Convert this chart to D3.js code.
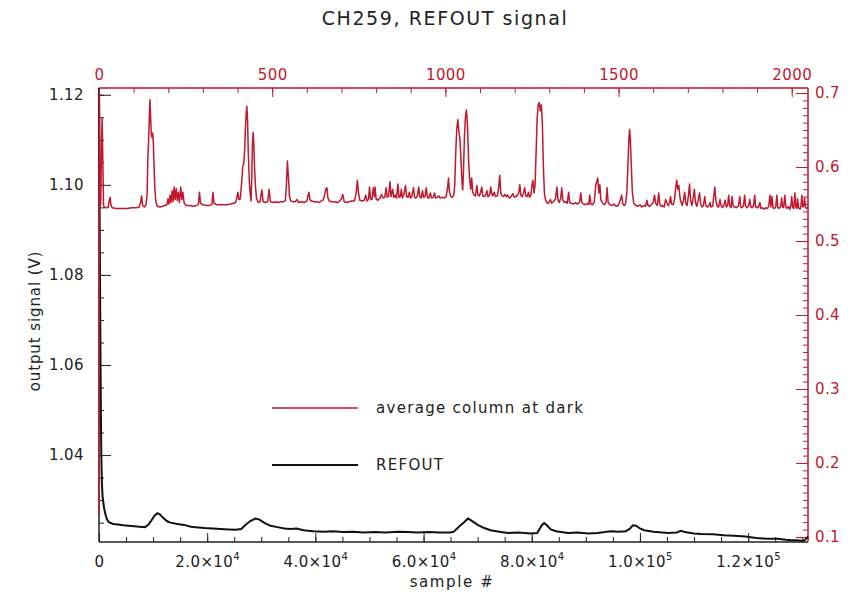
<!DOCTYPE html>
<html>
<head>
<meta charset="utf-8">
<script src="https://cdn.jsdelivr.net/npm/d3@7"></script>
<style>
  body { margin: 0; background: #fff; }
  text { font-family: "DejaVu Sans", sans-serif; }
</style>
</head>
<body>
<div id="chart"></div>
<script>
// average column at dark: [column, value] (right axis)
var darkAvg = [[0,0.130],[1,0.705],[3,0.548],[5,0.550],[7,0.620],[9,0.666],[11,0.612],[13,0.548],[17,0.545],[22,0.545],[27,0.546],[30,0.556],[32,0.559],[34,0.550],[38,0.545],[50,0.544],[65,0.544],[80,0.544],[95,0.545],[108,0.545],[116,0.546],[120,0.552],[123,0.561],[126,0.548],[131,0.546],[136,0.549],[139,0.565],[141,0.612],[143,0.632],[145,0.662],[147,0.691],[149,0.668],[151,0.644],[153,0.640],[155,0.646],[157,0.632],[159,0.602],[161,0.572],[164,0.554],[168,0.547],[176,0.546],[184,0.547],[190,0.548],[196,0.549],[199,0.557],[202,0.550],[205,0.562],[208,0.552],[211,0.568],[214,0.553],[217,0.573],[220,0.556],[223,0.571],[226,0.555],[229,0.566],[232,0.552],[236,0.573],[239,0.556],[242,0.566],[246,0.551],[252,0.548],[262,0.548],[272,0.547],[282,0.548],[287,0.550],[290,0.566],[293,0.551],[300,0.549],[310,0.548],[320,0.548],[326,0.550],[329,0.566],[332,0.551],[340,0.549],[350,0.549],[360,0.549],[370,0.549],[380,0.550],[388,0.551],[394,0.552],[398,0.558],[401,0.566],[404,0.556],[408,0.557],[412,0.580],[415,0.601],[418,0.604],[421,0.628],[423,0.655],[425,0.672],[427,0.682],[429,0.662],[431,0.620],[434,0.580],[437,0.562],[439,0.554],[441,0.585],[443,0.630],[445,0.647],[447,0.632],[449,0.600],[452,0.572],[455,0.557],[460,0.552],[465,0.553],[470,0.569],[474,0.553],[480,0.552],[487,0.553],[491,0.570],[495,0.553],[502,0.552],[510,0.553],[517,0.552],[525,0.553],[532,0.553],[538,0.555],[541,0.575],[544,0.608],[547,0.585],[550,0.560],[554,0.554],[560,0.553],[566,0.553],[572,0.556],[576,0.552],[584,0.553],[592,0.552],[600,0.554],[603,0.560],[606,0.566],[609,0.556],[614,0.554],[621,0.553],[628,0.553],[634,0.552],[641,0.554],[648,0.556],[651,0.562],[655,0.570],[658,0.572],[661,0.558],[665,0.554],[672,0.553],[680,0.553],[688,0.552],[695,0.554],[700,0.557],[704,0.563],[708,0.553],[715,0.552],[722,0.553],[730,0.554],[737,0.554],[742,0.563],[746,0.582],[749,0.566],[753,0.555],[760,0.554],[766,0.555],[770,0.562],[774,0.554],[778,0.556],[781,0.573],[784,0.557],[788,0.556],[792,0.572],[795,0.560],[797,0.573],[800,0.557],[805,0.555],
  [811,0.558],[816,0.563],[820,0.558],[825,0.559],[829,0.572],[832,0.559],[836,0.561],[840,0.580],[843,0.560],[848,0.570],[851,0.559],[855,0.562],[859,0.558],[863,0.577],[866,0.559],[870,0.560],[873,0.570],[876,0.558],[880,0.563],[885,0.575],[888,0.560],[892,0.559],[896,0.566],[899,0.558],[903,0.560],[908,0.572],[911,0.559],[915,0.558],[919,0.561],[923,0.573],[926,0.560],[930,0.558],[934,0.568],[937,0.559],[941,0.560],[945,0.572],[948,0.559],[952,0.558],[957,0.565],[960,0.558],[965,0.559],[969,0.565],[972,0.558],[977,0.559],[981,0.561],[985,0.558],[990,0.559],[996,0.558],[1002,0.560],[1006,0.570],[1009,0.585],[1012,0.566],[1016,0.560],[1020,0.559],[1024,0.562],
  [1027,0.575],[1030,0.620],[1033,0.652],[1036,0.664],[1039,0.648],[1042,0.639],[1045,0.610],[1048,0.580],[1050,0.569],[1052,0.590],[1055,0.640],[1058,0.668],[1061,0.677],[1064,0.655],[1067,0.610],[1070,0.585],[1073,0.570],[1076,0.585],[1079,0.566],
  [1083,0.562],[1087,0.561],[1091,0.575],[1094,0.562],[1098,0.561],[1102,0.566],[1105,0.573],[1108,0.561],[1112,0.560],[1116,0.561],[1120,0.568],[1123,0.560],[1128,0.562],[1131,0.573],[1134,0.564],[1137,0.561],[1141,0.566],[1145,0.560],[1150,0.561],[1154,0.572],[1157,0.589],[1160,0.565],[1164,0.561],[1168,0.560],[1172,0.563],[1176,0.560],[1180,0.562],[1185,0.558],[1190,0.560],[1195,0.564],[1199,0.559],[1204,0.560],[1208,0.562],[1212,0.565],[1215,0.576],[1218,0.562],[1222,0.560],[1226,0.566],[1229,0.572],[1232,0.561],[1236,0.560],[1240,0.566],[1243,0.559],[1247,0.562],[1250,0.575],[1253,0.582],[1256,0.565],
  [1259,0.575],[1262,0.620],[1265,0.665],[1268,0.684],[1271,0.687],[1274,0.676],[1277,0.684],[1280,0.660],[1283,0.600],[1286,0.565],[1289,0.556],
  [1293,0.552],[1298,0.551],[1303,0.556],[1307,0.551],[1312,0.553],[1318,0.557],[1322,0.573],[1325,0.556],[1329,0.552],[1333,0.558],[1336,0.572],[1339,0.556],[1343,0.552],[1348,0.553],[1352,0.551],[1356,0.566],[1359,0.552],[1364,0.551],[1370,0.550],[1376,0.552],[1382,0.550],[1388,0.553],[1391,0.565],[1394,0.552],[1399,0.550],[1405,0.549],[1410,0.551],[1414,0.549],[1417,0.562],[1420,0.550],[1425,0.549],[1430,0.553],[1434,0.575],[1437,0.580],[1440,0.585],[1443,0.565],[1446,0.576],[1449,0.556],[1454,0.551],[1459,0.549],[1464,0.553],[1467,0.572],[1470,0.552],
  [1475,0.549],[1481,0.548],[1487,0.550],[1493,0.547],[1499,0.548],[1505,0.555],[1509,0.562],[1512,0.551],[1516,0.548],[1520,0.550],[1524,0.565],[1527,0.600],[1530,0.640],[1532,0.651],[1534,0.638],[1537,0.600],[1540,0.565],[1544,0.551],[1550,0.548],[1556,0.547],[1562,0.549],[1567,0.546],[1573,0.548],[1578,0.547],[1582,0.555],[1585,0.548],[1590,0.547],[1595,0.549],[1600,0.552],[1604,0.562],[1607,0.551],[1612,0.548],[1616,0.565],[1619,0.550],[1624,0.547],[1628,0.548],[1632,0.546],[1636,0.556],[1639,0.552],[1643,0.548],[1647,0.551],[1650,0.560],[1653,0.550],[1658,0.549],[1662,0.557],[1665,0.572],[1668,0.582],[1671,0.570],[1674,0.575],[1677,0.560],
  [1680,0.553],[1684,0.548],[1688,0.557],[1691,0.566],[1694,0.551],[1698,0.548],[1702,0.562],[1705,0.577],[1708,0.555],[1712,0.548],[1716,0.560],[1719,0.570],[1722,0.552],[1726,0.547],[1730,0.556],[1734,0.565],[1737,0.550],[1741,0.546],[1745,0.548],[1749,0.560],[1752,0.548],[1756,0.546],[1760,0.547],[1764,0.552],[1767,0.546],[1772,0.547],[1775,0.561],[1778,0.573],[1781,0.555],[1785,0.547],[1789,0.546],[1793,0.556],[1796,0.548],[1800,0.545],[1804,0.548],[1808,0.555],[1811,0.546],[1815,0.548],[1818,0.562],[1821,0.548],[1825,0.545],[1828,0.560],[1831,0.547],[1836,0.546],[1840,0.545],[1846,0.547],[1850,0.560],[1853,0.546],[1857,0.545],[1861,0.548],[1864,0.562],[1867,0.547],[1871,0.545],[1875,0.547],[1879,0.556],[1882,0.546],[1886,0.545],[1890,0.548],[1893,0.562],[1896,0.546],[1900,0.545],[1904,0.546],[1908,0.552],[1911,0.544],[1916,0.545],[1920,0.543],[1925,0.545],[1930,0.544],[1934,0.548],[1937,0.562],[1940,0.546],[1943,0.560],[1946,0.545],[1950,0.544],[1954,0.546],[1957,0.562],[1960,0.545],[1964,0.544],[1968,0.547],[1971,0.558],[1974,0.545],[1977,0.546],[1980,0.562],[1983,0.546],[1987,0.544],[1991,0.547],[1994,0.543],[1997,0.546],[2000,0.560],[2003,0.545],[2006,0.544],[2009,0.565],[2012,0.546],[2015,0.544],[2017,0.557],[2020,0.545],[2024,0.543],[2027,0.548],[2029,0.562],[2032,0.546],[2035,0.548],[2037,0.558],[2040,0.545],[2043,0.544],[2047,0.546]];

// REFOUT: [sample, volts] (left axis)
var refout = [[0,1.1215],[80,1.105],[160,1.085],[240,1.068],[330,1.052],[430,1.040],[530,1.034],[650,1.031],[760,1.0298],[950,1.0282],[1150,1.0270],[1450,1.0258],[1800,1.0251],[2600,1.0247],[3500,1.0246],[4500,1.0244],[5500,1.0243],[6500,1.0242],[7500,1.0241],[8500,1.0240],[9100,1.0245],[9700,1.0255],[10300,1.0266],[10800,1.0271],[11300,1.0268],[11900,1.0260],[12600,1.0253],[13200,1.0250],[14500,1.0247],[15700,1.0245],[17000,1.0241],[17800,1.0240],[19500,1.0238],[21000,1.0237],[22500,1.0236],[24000,1.0235],[25200,1.0234],[26300,1.0236],[27000,1.0244],[27900,1.0253],[28900,1.0259],[29600,1.0257],[30500,1.0250],[31700,1.0243],[33000,1.0240],[34300,1.0237],[35400,1.0236],[36500,1.0237],[37800,1.0233],[39600,1.0231],[41500,1.0230],[43300,1.0231],[45000,1.0229],[47000,1.0230],[48900,1.0228],[51000,1.0229],[53000,1.0228],[55200,1.0230],[57000,1.0229],[59000,1.0228],[61000,1.0229],[63000,1.0228],[65000,1.0228],[65600,1.0230],[66300,1.0238],[66900,1.0245],[67600,1.0252],[68200,1.0259],[68800,1.0255],[69400,1.0250],[70000,1.0245],[71200,1.0238],[72400,1.0233],[74000,1.0230],[75600,1.0227],[77500,1.0228],[79800,1.0226],[81000,1.0227],[81400,1.0235],[81900,1.0245],[82300,1.0249],[82800,1.0244],[83500,1.0235],[84500,1.0231],[86700,1.0227],[88500,1.0228],[90500,1.0226],[92200,1.0227],[93500,1.0229],[94600,1.0231],[96000,1.0230],[97400,1.0231],[98100,1.0236],[98700,1.0244],[99300,1.0243],[100000,1.0237],[100800,1.0233],[102500,1.0230],[105200,1.0227],[106800,1.0228],[107600,1.0232],[108300,1.0229],[110000,1.0226],[111300,1.0225],[113500,1.0224],[115500,1.0222],[117400,1.0221],[119500,1.0219],[121500,1.0216],[123700,1.0214],[125500,1.0214],[127000,1.0212],[128000,1.0211],[129000,1.0211],[129800,1.0210],[130400,1.0211],[130800,1.0215],[131071,1.0219]];

var sampleTicks = [0, 20000, 40000, 60000, 80000, 100000, 120000];
var columnTicks = [0, 500, 1000, 1500, 2000];
var voltTicks = [1.04, 1.06, 1.08, 1.10, 1.12];
var darkTicks = [0.1, 0.2, 0.3, 0.4, 0.5, 0.6, 0.7];

var red = "#c0182e";

var svgWidth = 854, svgHeight = 595;
var margin = { top: 88, right: 46, bottom: 53, left: 99 };
var width = svgWidth - margin.left - margin.right;
var height = svgHeight - margin.top - margin.bottom;

var svg = d3.select("#chart").append("svg")
    .attr("width", svgWidth)
    .attr("height", svgHeight);

var chartGroup = svg.append("g")
    .attr("transform", `translate(${margin.left}, ${margin.top})`);

var xSample = d3.scaleLinear().domain([0, 131071]).range([0, width]);
var xColumn = d3.scaleLinear().domain([0, 2047]).range([0, width]);
var yVolt = d3.scaleLinear().domain([1.0207, 1.1215]).range([height, 0]);
var yDark = d3.scaleLinear().domain([0.0932, 0.7068]).range([height, 0]);

chartGroup.append("clipPath").attr("id", "clip")
    .append("rect").attr("x", -2).attr("y", -1).attr("width", width + 3).attr("height", height + 2);

// minor ticks first (no labels)
chartGroup.append("g").attr("class", "ax")
    .attr("transform", `translate(0, ${height})`)
    .call(d3.axisBottom(xSample).tickValues(d3.range(0, 131071, 5000)).tickSizeInner(-5).tickSizeOuter(0).tickFormat(""));
chartGroup.append("g").attr("class", "ax red")
    .call(d3.axisTop(xColumn).tickValues(d3.range(0, 2048, 100)).tickSizeInner(-5).tickSizeOuter(0).tickFormat(""));
chartGroup.append("g").attr("class", "ax")
    .call(d3.axisLeft(yVolt).tickValues(d3.range(1.025, 1.1216, 0.005)).tickSizeInner(-5).tickSizeOuter(0).tickFormat(""));
chartGroup.append("g").attr("class", "ax red")
    .attr("transform", `translate(${width}, 0)`)
    .call(d3.axisRight(yDark).tickValues(d3.range(0.1, 0.705, 0.01)).tickSizeInner(-5).tickSizeOuter(0).tickFormat(""));

// major ticks
var bottomAxis = chartGroup.append("g").attr("class", "ax")
    .attr("transform", `translate(0, ${height})`)
    .call(d3.axisBottom(xSample).tickValues(sampleTicks).tickSizeInner(-9).tickSizeOuter(0).tickPadding(14));
var topAxis = chartGroup.append("g").attr("class", "ax red")
    .call(d3.axisTop(xColumn).tickValues(columnTicks).tickSizeInner(-9).tickSizeOuter(0).tickPadding(8).tickFormat(d3.format("d")));
var leftAxis = chartGroup.append("g").attr("class", "ax")
    .call(d3.axisLeft(yVolt).tickValues(voltTicks).tickSizeInner(-12).tickSizeOuter(0).tickPadding(15).tickFormat(d3.format(".2f")));
var rightAxis = chartGroup.append("g").attr("class", "ax red")
    .attr("transform", `translate(${width}, 0)`)
    .call(d3.axisRight(yDark).tickValues(darkTicks).tickSizeInner(-12).tickSizeOuter(0).tickPadding(7).tickFormat(d3.format(".1f")));

chartGroup.selectAll(".ax .domain").remove();
chartGroup.selectAll(".ax text").attr("font-size", "15px").attr("letter-spacing", "0.4px")
    .attr("font-family", "DejaVu Sans, sans-serif").attr("fill", "#222");
chartGroup.selectAll(".ax line").attr("stroke", "#222");
chartGroup.selectAll(".ax.red line").attr("stroke", red);
chartGroup.selectAll(".ax.red text").attr("fill", red);

// sample labels as m.m×10^e
bottomAxis.selectAll("text").each(function (d) {
    var t = d3.select(this);
    if (d === 0) return;
    var e = Math.floor(Math.log10(d));
    var m = d / Math.pow(10, e);
    t.text(null);
    t.append("tspan").text(m.toFixed(1) + "×10");
    t.append("tspan").attr("font-size", "10px").attr("dy", "-0.7em").text(e);
});

// frame
chartGroup.append("line").attr("x1", 0).attr("x2", width).attr("y1", height).attr("y2", height).attr("stroke", "#222").attr("stroke-width", 1.5);
chartGroup.append("line").attr("x1", 0).attr("x2", width).attr("y1", 0).attr("y2", 0).attr("stroke", red).attr("stroke-width", 1.5);
chartGroup.append("line").attr("x1", width).attr("x2", width).attr("y1", 0).attr("y2", height).attr("stroke", red).attr("stroke-width", 1.5);
chartGroup.append("line").attr("x1", 0).attr("x2", 0).attr("y1", 0).attr("y2", height).attr("stroke", "#222").attr("stroke-width", 1.5);

var refLine = d3.line().x(d => xSample(d[0])).y(d => yVolt(d[1]));
var darkLine = d3.line().x(d => xColumn(d[0])).y(d => yDark(d[1]));

chartGroup.append("path").datum(refout)
    .attr("clip-path", "url(#clip)")
    .attr("d", refLine)
    .attr("fill", "none")
    .attr("stroke", "#111")
    .attr("stroke-width", 2);

chartGroup.append("path").datum(darkAvg)
    .attr("clip-path", "url(#clip)")
    .attr("d", darkLine)
    .attr("fill", "none")
    .attr("stroke", red)
    .attr("stroke-width", 1.5)
    .attr("stroke-linejoin", "round");

// legend
var legend = [
    { label: "average column at dark", color: red, y: 408 },
    { label: "REFOUT", color: "#111", y: 465 }
];
legend.forEach(function (l) {
    svg.append("line").attr("x1", 272).attr("x2", 358).attr("y1", l.y).attr("y2", l.y)
        .attr("stroke", l.color).attr("stroke-width", l.color === red ? 1.5 : 2);
    svg.append("text").attr("x", 376).attr("y", l.y + 5)
        .attr("font-size", "15px").attr("letter-spacing", "1.3px").attr("fill", "#222").text(l.label);
});

// titles
svg.append("text")
    .attr("x", 445).attr("y", 25)
    .attr("text-anchor", "middle")
    .attr("font-size", "19px").attr("letter-spacing", "1.6px").attr("fill", "#222")
    .text("CH259, REFOUT signal");

svg.append("text")
    .attr("x", 452).attr("y", 587)
    .attr("text-anchor", "middle")
    .attr("font-size", "15px").attr("letter-spacing", "1.6px").attr("fill", "#222")
    .text("sample #");

svg.append("text")
    .attr("transform", "rotate(-90)")
    .attr("x", -321).attr("y", 40)
    .attr("text-anchor", "middle")
    .attr("font-size", "15px").attr("letter-spacing", "0.9px").attr("fill", "#222")
    .text("output signal (V)");
</script>
</body>
</html>
